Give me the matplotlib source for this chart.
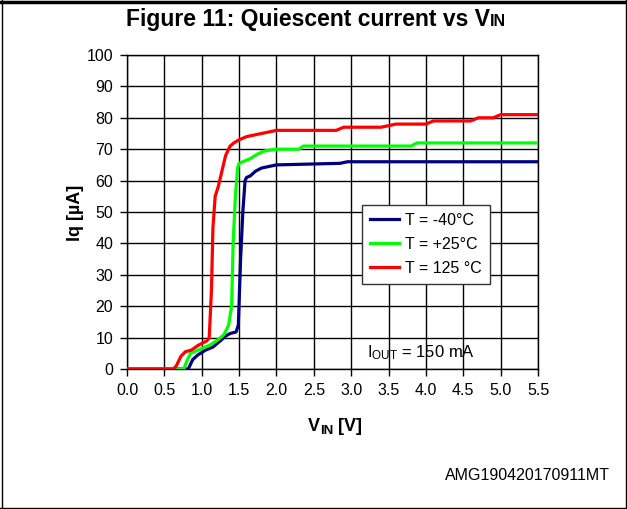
import matplotlib
matplotlib.use("Agg")
import matplotlib.pyplot as plt
from matplotlib.lines import Line2D

plt.rcParams['font.family'] = ['Liberation Sans', 'DejaVu Sans']
plt.rcParams['mathtext.fontset'] = 'custom'
plt.rcParams['mathtext.rm'] = 'Liberation Sans'
plt.rcParams['mathtext.it'] = 'Liberation Sans:italic'
plt.rcParams['mathtext.bf'] = 'Liberation Sans:bold'

# ---- data ----
labels = ["T = -40°C", "T = +25°C", "T = 125 °C"]
colors = ["#000080", "#00ff00", "#ff0000"]

blue_v = [0.0, 0.78, 0.82, 0.88, 0.95, 1.05, 1.15, 1.25, 1.32, 1.38, 1.46, 1.49, 1.52, 1.55,
          1.58, 1.6, 1.65, 1.72, 1.8, 1.9, 2.0, 2.85, 2.95, 5.5]
blue_i = [0, 0, 0, 3, 4.5, 6, 7, 9, 10.5, 11.3, 11.8, 14, 35, 50,
          60, 61, 61.5, 63, 64, 64.5, 65, 65.5, 66, 66]

green_v = [0.0, 0.72, 0.76, 0.8, 0.85, 0.95, 1.1, 1.2, 1.3, 1.36, 1.4, 1.42, 1.45, 1.48, 1.5,
           1.55, 1.65, 1.75, 1.85, 2.0, 2.3, 2.36, 2.5, 3.8, 3.88, 5.5]
green_i = [0, 0, 0, 2.5, 5, 6, 7.5, 9, 11, 14, 20, 40, 55, 64, 65.5,
           66, 67, 68.5, 69.5, 70, 70, 71, 71, 71, 72, 72]

red_v = [0.0, 0.62, 0.66, 0.72, 0.78, 0.86, 0.95, 1.07, 1.1, 1.13, 1.15, 1.18, 1.22, 1.26,
         1.32, 1.38, 1.43, 1.5, 1.6, 1.7, 1.8, 1.9, 2.0, 2.1, 2.8, 2.9, 3.4, 3.5, 3.6, 4.0,
         4.1, 4.6, 4.7, 4.9, 5.0, 5.5]
red_i = [0, 0, 1, 4, 5.5, 6, 7.5, 9, 10, 25, 45, 55, 58, 62,
         68, 71, 72, 73, 74, 74.5, 75, 75.5, 76, 76, 76, 77, 77, 77.5, 78, 78,
         79, 79, 80, 80, 81, 81]

xticks = [0.0, 0.5, 1.0, 1.5, 2.0, 2.5, 3.0, 3.5, 4.0, 4.5, 5.0, 5.5]
yticks = [0, 10, 20, 30, 40, 50, 60, 70, 80, 90, 100]

W, H = 627, 509
fig = plt.figure(figsize=(W / 100, H / 100), dpi=100)
ax = fig.add_axes([127 / W, 1 - 369 / H, 411 / W, 314 / H])

series = [(blue_v, blue_i), (green_v, green_i), (red_v, red_i)]
for (v, i), c, lab in zip(series, colors, labels):
    ax.plot(v, i, color=c, lw=2.3, label=lab, solid_joinstyle='round', zorder=3)

ax.set_xlim(0, 5.5)
ax.set_ylim(0, 100)
ax.set_xticks(xticks)
ax.set_xticklabels([f"{t:.1f}" for t in xticks])
ax.set_yticks(yticks)
ax.grid(True, color='black', lw=1.0)
ax.set_axisbelow(True)
ax.tick_params(direction='out', length=5, width=1, labelsize=11.5, pad=5)
for s in ax.spines.values():
    s.set_linewidth(1.0)
    s.set_color('black')

leg = ax.legend(loc='upper left', bbox_to_anchor=(0.572, 0.522), borderaxespad=0,
                fancybox=False, framealpha=1, edgecolor='#333333', fontsize=11.5,
                handlelength=1.8, handletextpad=0.4, labelspacing=0.55, borderpad=0.5)
leg.get_frame().set_linewidth(1.0)
leg.set_zorder(5)

ax.text(0.584, 0.052, r'I$_{\mathrm{OUT}}$ = 150 mA', transform=ax.transAxes,
        fontsize=12, ha='left', va='center')

# y label
fig.text(75 / W, 1 - 213 / H, 'Iq [µA]', rotation=90, fontsize=13, fontweight='bold',
         ha='center', va='center')

renderer = fig.canvas.get_renderer()


def compound(x_center, y_base, parts):
    # parts: list of (text, size, dy)
    widths = []
    for txt, size, dy in parts:
        t = fig.text(0, 0, txt, fontsize=size, fontweight='bold')
        bb = t.get_window_extent(renderer)
        widths.append(bb.width)
        t.remove()
    total = sum(widths)
    x = x_center - total / 2
    for (txt, size, dy), w in zip(parts, widths):
        fig.text(x / W, 1 - (y_base + dy) / H, txt, fontsize=size, fontweight='bold',
                 ha='left', va='baseline')
        x += w


compound(316, 26, [("Figure 11: Quiescent current vs V", 16.5, 0), ("IN", 11.5, 0)])
compound(335, 431, [("V", 13, 0), ("IN", 9.5, 2.5), (" [V]", 13, 0)])

fig.text(610 / W, 1 - 476 / H, 'AMG190420170911MT', fontsize=11.5, ha='right', va='center')

# outer frame
fig.add_artist(Line2D([0, 1], [1 - 1.5 / H, 1 - 1.5 / H], transform=fig.transFigure,
                      color='black', lw=2.5))
fig.add_artist(Line2D([1.5 / W, 1.5 / W], [0, 1], transform=fig.transFigure, color='black', lw=1))
fig.add_artist(Line2D([625.5 / W, 625.5 / W], [0, 1], transform=fig.transFigure, color='black', lw=1))
fig.add_artist(Line2D([0, 1], [1 - 507.5 / H, 1 - 507.5 / H], transform=fig.transFigure,
                      color='black', lw=1))

fig.savefig("out.png", dpi=100)
